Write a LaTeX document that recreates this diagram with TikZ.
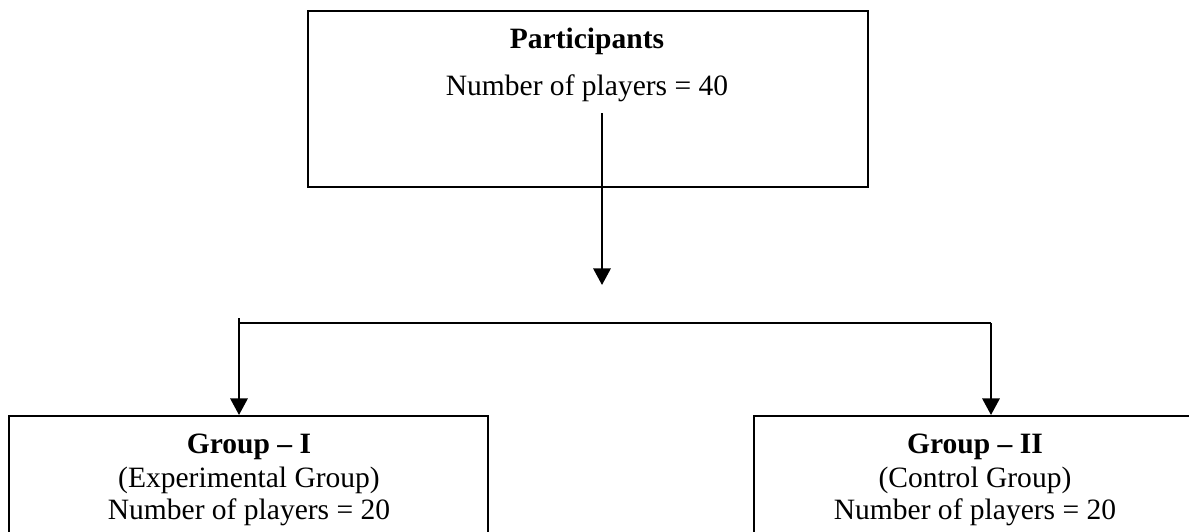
\documentclass[tikz,border=0pt]{standalone}
\usepackage{fontspec}
\setmainfont{Liberation Serif}
\usetikzlibrary{arrows.meta}
\tikzset{
  box/.style={draw, rectangle, line width=0.9pt, inner sep=0pt},
  txt/.style={font=\fontsize{12.6pt}{14.5pt}\selectfont, inner sep=0pt},
  link/.style={line width=1pt, -{Triangle[width=0.26cm, length=0.25cm]}},
}

\begin{document}
\begin{tikzpicture}
        \useasboundingbox (0, 0) rectangle (17.835, -7.965);
        \clip (0, 0) rectangle (17.835, -7.965);

        \node[box, minimum width=8.4cm, minimum height=2.64cm] (part) at (8.82, -1.485) {};
        \node[txt] (parttitle) at (8.805, -0.62) {\textbf{Participants}};
        \node[txt] (partnum) at (8.805, -1.32) {Number of players = 40};

        \node[box, minimum width=7.185cm, minimum height=2.6cm, anchor=north] (grpone) at (3.7275, -6.225) {};
        \node[txt] (grponetitle) at (3.735, -6.7) {\textbf{Group -- I}};
        \node[txt] (grponesub) at (3.735, -7.2) {(Experimental Group)};
        \node[txt] (grponenum) at (3.735, -7.68) {Number of players = 20};

        \node[box, minimum width=6.63cm, minimum height=2.6cm, anchor=north] (grptwo) at (14.625, -6.225) {};
        \node[txt] (grptwotitle) at (14.625, -6.7) {\textbf{Group -- II}};
        \node[txt] (grptwosub) at (14.625, -7.2) {(Control Group)};
        \node[txt] (grptwonum) at (14.625, -7.68) {Number of players = 20};

        \coordinate (start) at (9.03, -1.695);
        \coordinate (fork) at (9.03, -4.275);
        \coordinate (bl) at (3.585, -4.77);
        \coordinate (br) at (14.865, -4.845);

        \draw[link] (start) -- (fork);
        \draw[line width=0.9pt] (bl) -- (bl |- br) -- (br);
        \draw[link] (bl) -- (bl |- grpone.north);
        \draw[link] (br) -- (br |- grptwo.north);

\end{tikzpicture}
\end{document}
